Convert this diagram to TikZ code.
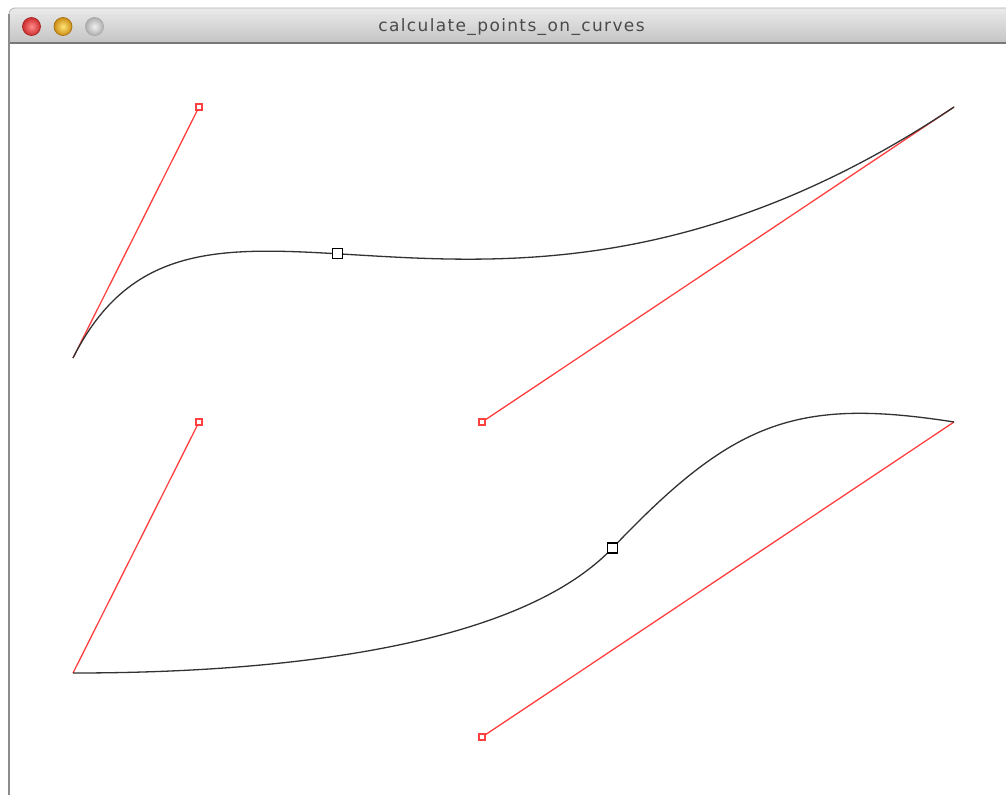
\documentclass[tikz,border=0pt]{standalone}
\usepackage{fontspec}
\newfontfamily\titlefont[LetterSpace=8]{DejaVu Sans}
\definecolor{redline}{RGB}{255,64,64}
\definecolor{curvecol}{RGB}{50,50,50}
\definecolor{bartop}{RGB}{234,234,234}
\definecolor{barbot}{RGB}{196,196,196}
\definecolor{barline}{RGB}{120,120,120}
\definecolor{bordcol}{RGB}{140,140,140}
\definecolor{titlecol}{RGB}{74,74,74}
\definecolor{redin}{RGB}{255,140,140}
\definecolor{redout}{RGB}{205,45,45}
\definecolor{yelin}{RGB}{255,230,120}
\definecolor{yelout}{RGB}{205,140,20}
\definecolor{grayin}{RGB}{240,240,240}
\definecolor{grayout}{RGB}{175,175,175}
\tikzset{
  ctrlline/.style={draw=redline, line width=1.3pt},
  ctrlmark/.style={draw=redline, fill=white, line width=1.2pt, minimum size=6pt, inner sep=0pt, outer sep=0pt, rectangle},
  curvemark/.style={draw=black, fill=white, line width=1.2pt, minimum size=10pt, inner sep=0pt, outer sep=0pt, rectangle},
  curveline/.style={draw=curvecol, line width=1.3pt},
  light/.style={circle, minimum size=18pt, inner sep=0pt, line width=0.7pt}
}
\begin{document}
\begin{tikzpicture}[x=1pt, y=-1pt]
\useasboundingbox (0,0) rectangle (1006,795);
\fill[white] (0,0) rectangle (1006,795);
% title bar
\shade[top color=bartop, bottom color=barbot]
  (9,43) -- (9,14) arc[start angle=180, end angle=270, radius=6] -- (1006,8) -- (1006,43) -- cycle;
\draw[color=black!30, line width=0.8pt] (9,14) arc[start angle=180, end angle=270, radius=6] -- (1006,8);
\draw[color=barline, line width=1.2pt] (9,43) -- (1006,43);
\draw[color=bordcol, line width=1.6pt] (9,14) -- (9,795);
% traffic lights
\node[light, draw=redout!80!black, inner color=redin, outer color=redout] (closeb) at (31.5,26.5) {};
\node[light, draw=yelout!80!black, inner color=yelin, outer color=yelout] (minb) at (63,26.5) {};
\node[light, draw=black!35, inner color=grayin, outer color=grayout] (zoomb) at (94.5,26.5) {};
\node[font=\titlefont\fontsize{17}{17}\selectfont, text=titlecol, inner sep=0pt] (title) at (511.5,27) {calculate\_points\_on\_curves};
% curve 1
\coordinate (a1) at (73,358);
\coordinate (e1) at (954,107);
\node[ctrlmark] (c1) at (199,107) {};
\node[ctrlmark] (d1) at (482,422) {};
% curve 2
\coordinate (a2) at (73,673);
\coordinate (e2) at (954,422);
\node[ctrlmark] (c2) at (199,422) {};
\node[ctrlmark] (d2) at (482,737) {};
\node[curvemark] (m1) at (337.5,253.5) {};
\node[curvemark] (m2) at (612.5,548) {};
% control lines
\draw[ctrlline] (a1) -- (c1);
\draw[ctrlline] (e1) -- (d1);
\draw[ctrlline] (a2) -- (c2);
\draw[ctrlline] (e2) -- (d2);
% curves
\draw[curveline] (a1) .. controls (199,107) and (482,422) .. (e1);
\draw[curveline] (a2) .. controls (300,673) and (522.5,642.5) .. (m2.center)
   .. controls (732.5,422) and (795,397) .. (e2);
% markers on top
\node[ctrlmark] at (c1.center) {};
\node[ctrlmark] at (d1.center) {};
\node[ctrlmark] at (c2.center) {};
\node[ctrlmark] at (d2.center) {};
\node[curvemark] at (m1.center) {};
\node[curvemark] at (m2.center) {};
\end{tikzpicture}
\end{document}
